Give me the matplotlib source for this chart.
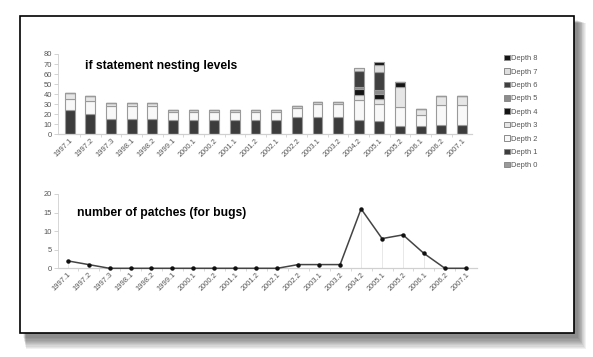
import matplotlib
matplotlib.use("Agg")
import matplotlib.pyplot as plt
from matplotlib.patches import Rectangle, Patch
import numpy as np

plt.rcParams['font.family'] = ['Liberation Sans', 'DejaVu Sans']

categories = ['1997.1', '1997.2', '1997.3', '1998.1', '1998.2', '1999.1', '2000.1',
              '2000.2', '2001.1', '2001.2', '2002.1', '2002.2', '2003.1', '2003.2',
              '2004.2', '2005.1', '2005.2', '2006.1', '2006.2', '2007.1']

depth0 = [0, 0, 0, 0, 0, 0, 0, 0, 0, 0, 0, 0, 0, 0, 0, 0, 0, 0, 0, 0]
depth1 = [24, 20, 15, 15, 15, 14, 14, 14, 14, 14, 14, 17, 17, 17, 14, 13, 8, 8, 9, 9]
depth2 = [11, 13, 13, 13, 13, 8, 8, 8, 8, 8, 8, 9, 13, 13, 20, 17, 19, 11, 20, 20]
depth3 = [6, 5, 3, 3, 3, 2, 2, 2, 2, 2, 2, 2, 2, 2, 5, 5, 20, 6, 9, 9]
depth4 = [0, 0, 0, 0, 0, 0, 0, 0, 0, 0, 0, 0, 0, 0, 6, 5, 5, 0, 0, 0]
depth5 = [0, 0, 0, 0, 0, 0, 0, 0, 0, 0, 0, 0, 0, 0, 2, 4, 0, 0, 0, 0]
depth6 = [0, 0, 0, 0, 0, 0, 0, 0, 0, 0, 0, 0, 0, 0, 16, 18, 0, 0, 0, 0]
depth7 = [0, 0, 0, 0, 0, 0, 0, 0, 0, 0, 0, 0, 0, 0, 3, 7, 0, 0, 0, 0]
depth8 = [0, 0, 0, 0, 0, 0, 0, 0, 0, 0, 0, 0, 0, 0, 0, 3, 0, 0, 0, 0]

patches = [2, 1, 0, 0, 0, 0, 0, 0, 0, 0, 0, 1, 1, 1, 16, 8, 9, 4, 0, 0]

depth_names = ['Depth 0', 'Depth 1', 'Depth 2', 'Depth 3', 'Depth 4',
               'Depth 5', 'Depth 6', 'Depth 7', 'Depth 8']
depth_series = [depth0, depth1, depth2, depth3, depth4, depth5, depth6, depth7, depth8]
depth_colors = ['#9a9a9a', '#3c3c3c', '#f8f8f8', '#e6e6e6', '#141414',
                '#8c8c8c', '#404040', '#dedede', '#141414']

W, H = 593, 357
fig = plt.figure(figsize=(W / 100, H / 100), dpi=100)
fig.patch.set_facecolor('white')

# screenshot frame with shadow
bg = fig.add_axes([0, 0, 1, 1])
bg.set_xlim(0, W)
bg.set_ylim(H, 0)
bg.axis('off')
fx0, fy0, fx1, fy1 = 20, 16, 574, 333
for i in range(10, 0, -1):
    off = i
    bg.add_patch(Rectangle((fx0 + 3 + off * 0.3, fy0 + 4 + off * 0.3),
                           (fx1 - fx0) + off * 0.6, (fy1 - fy0) + off * 0.9,
                           facecolor='black', edgecolor='none', alpha=0.055))
bg.add_patch(Rectangle((fx0, fy0), fx1 - fx0, fy1 - fy0, facecolor='white',
                       edgecolor='black', linewidth=1.2))

def px_axes(x0, x1, ytop, ybot):
    return fig.add_axes([x0 / W, 1 - ybot / H, (x1 - x0) / W, (ybot - ytop) / H])

tick_color = '#555555'
x = np.arange(len(categories))

def style(ax):
    for s in ['top', 'right']:
        ax.spines[s].set_visible(False)
    ax.spines['left'].set_color('#d0d0d0')
    ax.spines['bottom'].set_color('#d0d0d0')
    ax.spines['left'].set_linewidth(0.6)
    ax.spines['bottom'].set_linewidth(0.9)
    ax.tick_params(axis='y', labelsize=5.4, colors='#c0c0c0', labelcolor=tick_color,
                   length=3, width=0.5, pad=1.5)
    ax.tick_params(axis='x', which='major', length=0, labelsize=5.4,
                   labelcolor=tick_color, pad=2)
    ax.tick_params(axis='x', which='minor', length=2.5, width=0.5, colors='#c8c8c8')
    ax.set_xticks(x)
    ax.set_xticks(x[:-1] + 0.5, minor=True)
    ax.set_xticklabels(categories, rotation=45, ha='right', va='top',
                       rotation_mode='anchor')
    ax.patch.set_alpha(0)

# top: stacked bars
ax1 = px_axes(58, 472, 54, 134.3)
bottom = np.zeros(len(categories))
for name, vals, col in zip(depth_names, depth_series, depth_colors):
    v = np.array(vals, dtype=float)
    ax1.bar(x, v, bottom=bottom, width=0.48, color=col, edgecolor='#9a9a9a',
            linewidth=0.8, label=name)
    bottom += v
ax1.set_xlim(-0.56, 19.48)
ax1.set_ylim(0, 80)
ax1.set_yticks(range(0, 81, 10))
style(ax1)
ax1.text(0.065, 0.85, 'if statement nesting levels', transform=ax1.transAxes,
         fontsize=8.7, fontweight='bold', color='black', va='center', ha='left')

handles = [Patch(facecolor=c, edgecolor='#8a8a8a', linewidth=0.7, label=n)
           for n, c in zip(depth_names, depth_colors)][::-1]
fig.legend(handles=handles, loc='upper left', bbox_to_anchor=(504 / W, 1 - 55 / H),
           frameon=False, fontsize=5.4, handlelength=0.75, handleheight=0.75,
           handletextpad=0.2, labelspacing=0.8, labelcolor=tick_color,
           borderaxespad=0, borderpad=0)

# bottom: line chart
ax2 = px_axes(58, 477, 194, 268.3)
ax2.vlines(x, 0, patches, colors='#e4e4e4', linewidth=0.6, zorder=1)
ax2.plot(x, patches, color='#444444', linewidth=1.1, marker='o', markersize=2.2,
         markerfacecolor='#111111', markeredgecolor='#111111', zorder=3, clip_on=False)
ax2.set_xlim(-0.46, 19.53)
ax2.set_ylim(0, 20)
ax2.set_yticks([0, 5, 10, 15, 20])
style(ax2)
ax2.text(0.045, 0.745, 'number of patches (for bugs)', transform=ax2.transAxes,
         fontsize=8.7, fontweight='bold', color='black', va='center', ha='left')

fig.savefig('out.png', dpi=100, facecolor='white')
